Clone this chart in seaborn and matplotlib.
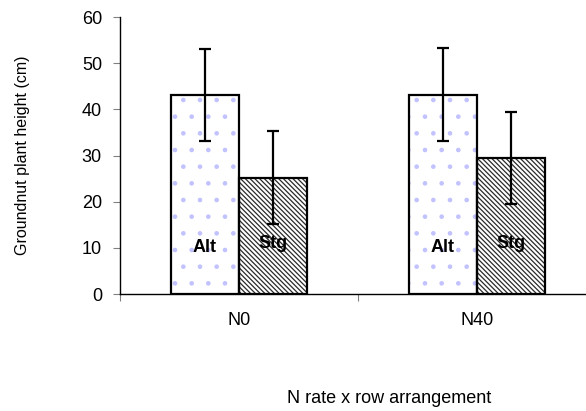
import pandas as pd
import matplotlib
matplotlib.use('Agg')
import matplotlib.pyplot as plt
import matplotlib.patches as mpatches
import seaborn as sns

# values
n_rates = ['N0', 'N40']
arrangements = ['Alt', 'Stg']
alt_height = [43.1, 43.2]
stg_height = [25.2, 29.4]
alt_err = [10.0, 10.0]
stg_err = [10.0, 10.0]

df = pd.DataFrame({
    'nrate': n_rates * 2,
    'arrangement': ['Alt'] * 2 + ['Stg'] * 2,
    'height': alt_height + stg_height,
    'err': alt_err + stg_err,
})

sns.set_style('white')
plt.rcParams['font.family'] = ['Liberation Sans', 'DejaVu Sans']
plt.rcParams['hatch.linewidth'] = 0.9
plt.rcParams['text.color'] = 'black'
plt.rcParams['axes.labelcolor'] = 'black'
plt.rcParams['xtick.color'] = 'black'
plt.rcParams['ytick.color'] = 'black'

fig = plt.figure(figsize=(5.86, 4.11), dpi=100)
ax = fig.add_axes([120 / 586, 117 / 411, 466 / 586, 277 / 411])

sns.barplot(data=df, x='nrate', y='height', hue='arrangement',
            order=n_rates, hue_order=arrangements,
            palette=['white', 'white'], width=0.572, gap=0,
            errorbar=None, legend=False, ax=ax)

# hatch fill + separate black outline for each bar
hatch_style = {'Alt': ('.', '#c2c2ff'), 'Stg': ('\\' * 7, '#2a2a2a')}
bars = [p for p in ax.patches if isinstance(p, mpatches.Rectangle)]
rows = df.set_index(['arrangement', 'nrate'])
for i, bar in enumerate(bars[:4]):
    arr = arrangements[i // 2]
    nr = n_rates[i % 2]
    h, c = hatch_style[arr]
    bar.set_hatch(h)
    bar.set_edgecolor(c)
    bar.set_linewidth(0)
    x0, w, top = bar.get_x(), bar.get_width(), bar.get_height()
    ax.add_patch(mpatches.Rectangle((x0, 0), w, top, fill=False,
                                    edgecolor='black', linewidth=1.6, zorder=3))
    cx = x0 + w / 2
    ax.errorbar(cx, top, yerr=rows.loc[(arr, nr), 'err'], color='black',
                elinewidth=1.6, capsize=4, capthick=1.6, zorder=4)
    ylab = 10 if arr == 'Alt' else 11
    ax.text(cx, ylab, arr, ha='center', va='center', fontsize=13,
            fontweight='bold', color='black', zorder=5)

ax.set_xlim(-0.5, 1.46)
ax.set_ylim(0, 60)
ax.set_yticks(range(0, 61, 10))

# category boundaries get the tick marks, labels sit in between
ax.set_xticks([0, 1])
ax.set_xticklabels(n_rates)
ax.set_xticks([-0.5, 0.5], minor=True)
ax.tick_params(axis='x', which='major', length=0, pad=13, labelsize=13)
ax.tick_params(axis='x', which='minor', length=5, width=0.8,
               color='#808080', direction='out', bottom=True)
ax.tick_params(axis='y', length=5, width=0.8, color='#808080',
               labelcolor='black', direction='out', left=True,
               labelsize=13, pad=8)

for side in ['top', 'right']:
    ax.spines[side].set_visible(False)
for side in ['left', 'bottom']:
    ax.spines[side].set_color('black')
    ax.spines[side].set_linewidth(1.0)

ax.set_ylabel('Groundnut plant height (cm)', fontsize=11.5, color='black')
ax.yaxis.set_label_coords(-90 / 466, 0.5)
ax.set_xlabel('N rate x row arrangement', fontsize=13, color='black')
ax.xaxis.set_label_coords((389 - 120) / 466, -(390 - 294) / 277)

fig.savefig('out.png', dpi=100)
